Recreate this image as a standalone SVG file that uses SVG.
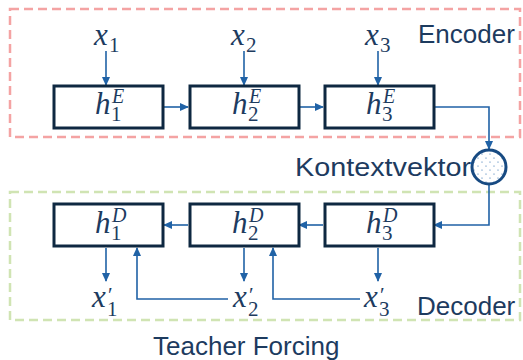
<svg xmlns="http://www.w3.org/2000/svg" width="523" height="360" viewBox="0 0 523 360">
<defs>
<style>
.lbl{font-family:"Liberation Sans",Arial,sans-serif;font-size:26px;fill:#1d3b5f}
.m{font-family:"Liberation Serif","Times New Roman",serif;font-style:italic;font-size:31px;fill:#1d3b5f}
.s{font-style:normal;font-size:21px}
.si{font-style:italic;font-size:20px}
.box{fill:#fff;stroke:#0e2841;stroke-width:3}
.ar{fill:none;stroke:#2062a6;stroke-width:1.6}
.frame{fill:none;stroke-width:2.5;stroke-dasharray:9 5}
</style>
<marker id="ah" viewBox="0 0 10 10" refX="9" refY="5" markerWidth="9" markerHeight="9" markerUnits="userSpaceOnUse" orient="auto">
<path d="M0,0.5 L10,5 L0,9.5 Z" fill="#2062a6"/>
</marker>
<pattern id="dots" width="8" height="8" patternUnits="userSpaceOnUse">
<circle cx="2" cy="2" r="0.6" fill="#2062a6"/>
<circle cx="6" cy="6" r="0.6" fill="#2062a6"/>
</pattern>
</defs>
<rect width="523" height="360" fill="#fff"/>

<g id="encoder-frame">
<rect class="frame" x="10" y="9" width="510" height="128" stroke="#f4a3a3"/>
<text class="lbl" x="418" y="43">Encoder</text>
</g>
<g id="decoder-frame">
<rect class="frame" x="10" y="192" width="510" height="128" stroke="#d0e4b3"/>
<text class="lbl" x="417" y="315">Decoder</text>
</g>

<g id="connectors">
<path class="ar" d="M106 51 V85" marker-end="url(#ah)"/>
<path class="ar" d="M244 51 V85" marker-end="url(#ah)"/>
<path class="ar" d="M378 51 V85" marker-end="url(#ah)"/>
<path class="ar" d="M164 107 H188" marker-end="url(#ah)"/>
<path class="ar" d="M299 107 H323" marker-end="url(#ah)"/>
<path class="ar" d="M434 107 H489 V149" marker-end="url(#ah)"/>
<path class="ar" d="M489 185 V225 H434" marker-end="url(#ah)"/>
<path class="ar" d="M323 225 H299" marker-end="url(#ah)"/>
<path class="ar" d="M188 225 H164" marker-end="url(#ah)"/>
<path class="ar" d="M106 248 V281" marker-end="url(#ah)"/>
<path class="ar" d="M244 248 V281" marker-end="url(#ah)"/>
<path class="ar" d="M378 248 V281" marker-end="url(#ah)"/>
<path class="ar" d="M228 299 H137 V248" marker-end="url(#ah)"/>
<path class="ar" d="M360 299 H273 V248" marker-end="url(#ah)"/>
</g>

<g id="x1"><text class="m" x="94" y="45">x<tspan class="s" x="109" dy="7">1</tspan></text></g>
<g id="x2"><text class="m" x="231" y="45">x<tspan class="s" x="246" dy="7">2</tspan></text></g>
<g id="x3"><text class="m" x="365" y="45">x<tspan class="s" x="380" dy="7">3</tspan></text></g>

<g id="hE1"><rect class="box" x="54" y="86" width="109" height="42"/><text class="m" x="95" y="114">h<tspan class="si" x="112" dy="-11">E</tspan><tspan class="s" x="111" dy="18">1</tspan></text></g>
<g id="hE2"><rect class="box" x="190" y="86" width="109" height="42"/><text class="m" x="232" y="114">h<tspan class="si" x="249" dy="-11">E</tspan><tspan class="s" x="248" dy="18">2</tspan></text></g>
<g id="hE3"><rect class="box" x="325" y="86" width="109" height="42"/><text class="m" x="366" y="114">h<tspan class="si" x="383" dy="-11">E</tspan><tspan class="s" x="382" dy="18">3</tspan></text></g>

<g id="kontextvektor">
<circle cx="489" cy="167" r="17" fill="#fff" stroke="none"/>
<circle cx="489" cy="167" r="17" fill="url(#dots)" stroke="#174a82" stroke-width="3"/>
<text class="lbl" x="295" y="176" textLength="176" lengthAdjust="spacingAndGlyphs">Kontextvektor</text>
</g>

<g id="hD1"><rect class="box" x="54" y="204" width="109" height="42"/><text class="m" x="95" y="233">h<tspan class="si" x="112" dy="-11">D</tspan><tspan class="s" x="111" dy="18">1</tspan></text></g>
<g id="hD2"><rect class="box" x="190" y="204" width="109" height="42"/><text class="m" x="232" y="233">h<tspan class="si" x="249" dy="-11">D</tspan><tspan class="s" x="248" dy="18">2</tspan></text></g>
<g id="hD3"><rect class="box" x="325" y="204" width="109" height="42"/><text class="m" x="366" y="233">h<tspan class="si" x="383" dy="-11">D</tspan><tspan class="s" x="382" dy="18">3</tspan></text></g>

<g id="xp1"><text class="m" x="92" y="307">x<tspan class="s" x="108" dy="-5">′</tspan><tspan class="s" x="107" dy="14">1</tspan></text></g>
<g id="xp2"><text class="m" x="233" y="307">x<tspan class="s" x="249" dy="-5">′</tspan><tspan class="s" x="248" dy="14">2</tspan></text></g>
<g id="xp3"><text class="m" x="364" y="307">x<tspan class="s" x="380" dy="-5">′</tspan><tspan class="s" x="379" dy="14">3</tspan></text></g>

<g id="teacher-forcing"><text class="lbl" x="153" y="355">Teacher Forcing</text></g>
</svg>
